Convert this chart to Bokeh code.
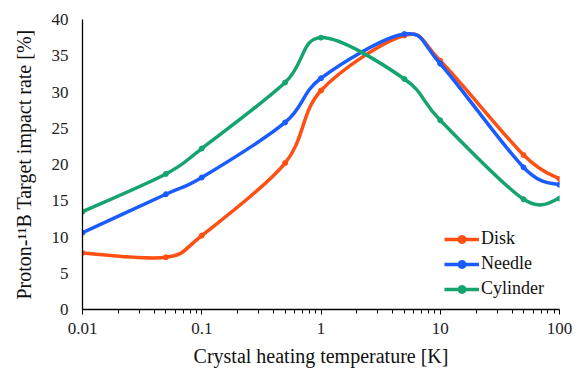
import numpy as np
from bokeh.plotting import figure
from bokeh.models import FixedTicker, Legend, LegendItem, Range1d
from bokeh.embed import file_html
from bokeh.resources import INLINE

temps = [0.01, 0.05, 0.1, 0.5, 1, 5, 10, 50, 100]
disk = [7.8, 7.2, 10.2, 20.2, 30.2, 37.8, 34.3, 21.3, 18.0]
needle = [10.6, 15.9, 18.2, 25.8, 31.9, 38.0, 33.9, 19.6, 17.2]
cylinder = [13.5, 18.7, 22.2, 31.3, 37.5, 31.8, 26.1, 15.2, 15.3]
series_names = ["Disk", "Needle", "Cylinder"]
series_colors = ["#FF4F12", "#1A5CFF", "#15A46E"]

x_ticks = [0.01, 0.1, 1, 10, 100]
x_tick_labels = ["0.01", "0.1", "1", "10", "100"]
y_ticks = [0, 5, 10, 15, 20, 25, 30, 35, 40]
minor_x = [m * d for d in [0.01, 0.1, 1, 10] for m in range(2, 10)]

FONT = "Liberation Serif"
FONT_SMALL = "Times"

p = figure(frame_width=477, frame_height=290, x_axis_type="log", output_backend="svg",
           toolbar_location=None, min_border_left=82, min_border_right=20,
           min_border_top=19, min_border_bottom=60)
p.x_range = Range1d(0.01, 100)
p.y_range = Range1d(0, 40)
p.outline_line_color = None
p.grid.visible = False
p.background_fill_color = "white"


def bezier_segments(xs, ys):
    lx = np.log10(np.array(xs, dtype=float))
    y = np.array(ys, dtype=float)
    n = len(lx)
    segs = []
    for i in range(n - 1):
        i0 = max(i - 1, 0)
        i3 = min(i + 2, n - 1)
        c1x = lx[i] + (lx[i + 1] - lx[i0]) / 6
        c1y = y[i] + (y[i + 1] - y[i0]) / 6
        c2x = lx[i + 1] - (lx[i3] - lx[i]) / 6
        c2y = y[i + 1] - (y[i3] - y[i]) / 6
        segs.append((10 ** lx[i], y[i], 10 ** lx[i + 1], y[i + 1],
                     10 ** c1x, c1y, 10 ** c2x, c2y))
    return [list(a) for a in zip(*segs)]


items = []
for name, vals, col in zip(series_names, [disk, needle, cylinder], series_colors):
    x0, y0, x1, y1, cx0, cy0, cx1, cy1 = bezier_segments(temps, vals)
    bz = p.bezier(x0=x0, y0=y0, x1=x1, y1=y1, cx0=cx0, cy0=cy0, cx1=cx1, cy1=cy1,
                  line_color=col, line_width=3.5)
    sc = p.scatter(temps, vals, size=5, color=col)
    items.append(LegendItem(label=name, renderers=[bz, sc]))

legend = Legend(items=items, location=(362, 10), background_fill_alpha=0,
                border_line_color=None,
                glyph_width=35, glyph_height=20,
                label_standoff=2, spacing=4, padding=0, margin=0,
                label_height=20)
legend.label_text_font = FONT_SMALL
legend.label_text_font_size = "18px"
legend.label_text_font_style = "normal"
legend.label_text_color = "#111111"
p.add_layout(legend, "center")

xa = p.xaxis[0]
xa.ticker = FixedTicker(ticks=x_ticks, minor_ticks=minor_x)
xa.major_label_overrides = {t: l for t, l in zip(x_ticks, x_tick_labels)}
xa.major_tick_in = 0
xa.major_tick_out = 5
xa.minor_tick_in = 0
xa.minor_tick_out = 4
xa.axis_label = "Crystal heating temperature [K]"

ya = p.yaxis[0]
ya.ticker = FixedTicker(ticks=y_ticks)
ya.major_tick_in = 0
ya.major_tick_out = 0
ya.minor_tick_in = 0
ya.minor_tick_out = 0
ya.axis_label = "Proton-\u00b9\u00b9B Target impact rate [%]"

for ax in (xa, ya):
    ax.axis_line_color = "black"
    ax.axis_line_width = 1.3
    ax.major_tick_line_color = "black"
    ax.minor_tick_line_color = "black"
    ax.major_label_text_color = "#222222"
    ax.axis_label_text_font = FONT
    ax.axis_label_text_font_size = "20px"
    ax.axis_label_text_font_style = "normal"
    ax.axis_label_text_color = "#111111"
    ax.major_label_text_font = FONT_SMALL
    ax.major_label_text_font_size = "17px"
    ax.major_label_text_font_style = "normal"

xa.major_label_standoff = 8
xa.axis_label_standoff = 8
ya.major_label_standoff = 14
ya.axis_label_standoff = 14

open("out.html", "w").write(file_html(p, INLINE))
